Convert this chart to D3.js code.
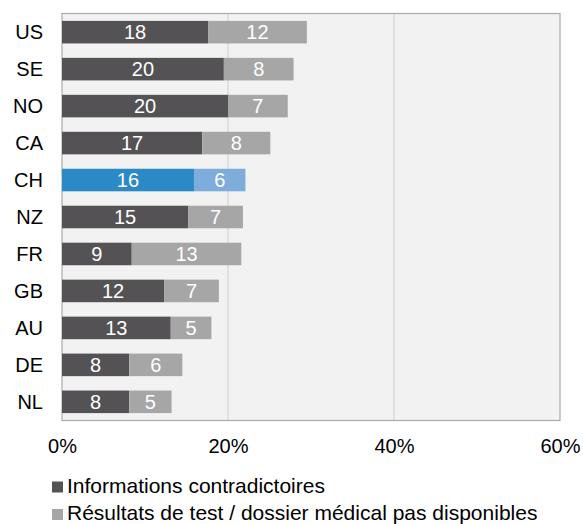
<!DOCTYPE html>
<html><head><meta charset="utf-8">
<script src="https://cdn.jsdelivr.net/npm/d3@7"></script>
<style>body{margin:0;background:#fff}svg{display:block}text{font-family:"Liberation Sans",Arial,sans-serif}</style>
</head><body>
<script>
const countries = ["US","SE","NO","CA","CH","NZ","FR","GB","AU","DE","NL"];
const contradictory = [17.6,19.5,20.0,16.9,15.9,15.2,8.4,12.3,13.1,8.1,8.1];
const unavailable = [11.9,8.4,7.2,8.2,6.2,6.6,13.2,6.6,4.9,6.4,5.1];
const labelsA = [18,20,20,17,16,15,9,12,13,8,8];
const labelsB = [12,8,7,8,6,7,13,7,5,6,5];
const ticks = [0,20,40,60];
const seriesNames = ["Informations contradictoires","Résultats de test / dossier médical pas disponibles"];
const highlight = "CH";

const W=583,H=524;
const m={l:62,r:23,t:13.5,b:103.5};
const FF="'Liberation Sans', Arial, sans-serif";
const svg=d3.select("body").append("svg").attr("width",W).attr("height",H);
const x=d3.scaleLinear().domain([0,60]).range([m.l,W-m.r]);
const y=d3.scaleBand().domain(countries).range([m.t,H-m.b]).paddingInner(0.39).paddingOuter(0.2);

svg.append("rect").attr("x",x(0)).attr("y",m.t).attr("width",x(60)-x(0)).attr("height",H-m.b-m.t)
  .attr("fill","#f2f2f2");
svg.selectAll(".grid").data(ticks.slice(1,3)).enter().append("line")
  .attr("x1",d=>x(d)).attr("x2",d=>x(d)).attr("y1",m.t).attr("y2",H-m.b)
  .attr("stroke","#d9d9d9").attr("stroke-width",1.5);
svg.append("rect").attr("x",x(0)).attr("y",m.t).attr("width",x(60)-x(0)).attr("height",H-m.b-m.t)
  .attr("fill","none").attr("stroke","#ababab").attr("stroke-width",1.2);

const rows=countries.map((c,i)=>({c,a:contradictory[i],b:unavailable[i],la:labelsA[i],lb:labelsB[i]}));
const g=svg.selectAll(".row").data(rows).enter().append("g");
g.append("rect").attr("x",x(0)).attr("y",d=>y(d.c)).attr("height",y.bandwidth())
  .attr("width",d=>x(d.a)-x(0)).attr("fill",d=>d.c===highlight?"#2b8ac6":"#545254");
g.append("rect").attr("x",d=>x(d.a)).attr("y",d=>y(d.c)).attr("height",y.bandwidth())
  .attr("width",d=>x(d.a+d.b)-x(d.a)).attr("fill",d=>d.c===highlight?"#7eaddb":"#a6a6a6");
g.append("text").attr("x",d=>(x(0)+x(d.a))/2).attr("y",d=>y(d.c)+y.bandwidth()/2).attr("dy","0.36em")
  .attr("text-anchor","middle").attr("fill","#fff").attr("font-size",20).text(d=>d.la);
g.append("text").attr("x",d=>(x(d.a)+x(d.a+d.b))/2).attr("y",d=>y(d.c)+y.bandwidth()/2).attr("dy","0.36em")
  .attr("text-anchor","middle").attr("fill","#fff").attr("font-size",20).text(d=>d.lb);

// category axis
const ya=svg.append("g").attr("transform",`translate(${x(0)},0)`).call(d3.axisLeft(y).tickSize(0).tickPadding(19));
ya.select(".domain").remove();
ya.selectAll("text").attr("font-size",20).attr("fill","#000").attr("dy","0.36em").style("font-family",FF);

// value axis
const xa=svg.append("g").attr("transform",`translate(0,${H-m.b})`).call(d3.axisBottom(x).tickValues(ticks).tickFormat(d=>d+"%").tickSize(0));
xa.select(".domain").remove();
xa.selectAll("text").attr("font-size",20).attr("fill","#000").attr("dy",0).attr("y",32.5).style("font-family",FF);

// legend
const lg=svg.selectAll(".lg").data(seriesNames).enter().append("g")
  .attr("transform",(d,i)=>`translate(52,${492.5+i*27.5})`);
lg.append("rect").attr("x",0).attr("y",-11).attr("width",11).attr("height",11)
  .attr("fill",(d,i)=>i===0?"#545254":"#a6a6a6");
lg.append("text").attr("x",15).attr("y",0).attr("font-size",21).attr("fill","#000").text(d=>d);
</script>
</body></html>
